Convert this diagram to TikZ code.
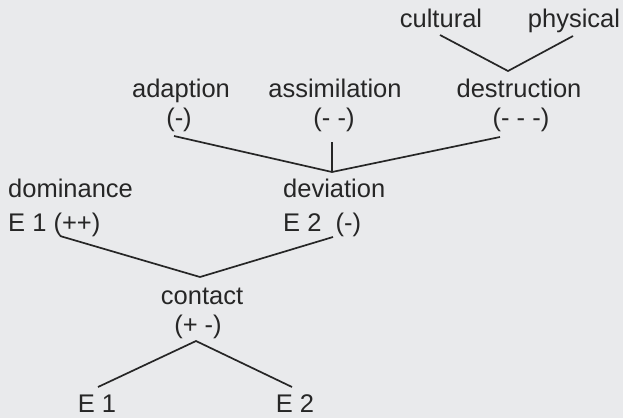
\documentclass[tikz,border=0pt]{standalone}
\usepackage{fontspec}
\setmainfont{Liberation Sans}
\definecolor{ink}{HTML}{262626}
\definecolor{paper}{HTML}{E9EAEC}
\begin{document}
\begin{tikzpicture}[x=1pt,y=-1pt,
  lbl/.style={inner sep=0pt,anchor=base,text=ink,font=\fontsize{25.5}{30}\selectfont},
  lblw/.style={lbl,anchor=base west},
  conn/.style={draw=ink,line width=1.7pt}]
\fill[paper] (0,0) rectangle (623,418);
\useasboundingbox (0,0) rectangle (623,418);
% labels
\node[lbl] (cultural) at (441,27) {cultural};
\node[lbl] (physical) at (574,27) {physical};
\node[lbl] (destruction) at (519,97) {destruction};
\node[lbl] (destsign) at (521,126) {(- - -)};
\node[lbl] (adaption) at (181,97) {adaption};
\node[lbl] (adsign) at (179,126) {(-)};
\node[lbl] (assimilation) at (335,97) {assimilation};
\node[lbl] (assign) at (334,126) {(- -)};
\node[lblw] (dominance) at (8,197) {dominance};
\node[lblw] (dom2) at (8,231) {E 1 (++)};
\node[lblw] (deviation) at (283,197) {deviation};
\node[lblw] (dev2) at (283,231) {E 2\ \ (-)};
\node[lbl] (contact) at (202,304) {contact};
\node[lbl] (consign) at (198,333) {(+ -)};
\node[lbl] (e1) at (97,412) {E 1};
\node[lbl] (e2) at (295,412) {E 2};
% connector ends
\coordinate (c1) at (440,35);
\coordinate (p1) at (573,36);
\coordinate (v1) at (508,71);
\coordinate (a1) at (174,136);
\coordinate (s1) at (332,142);
\coordinate (d1) at (500,137);
\coordinate (v2) at (332,172);
\coordinate (l1) at (60,236);
\coordinate (r1) at (333,237);
\coordinate (v3) at (200,277);
\coordinate (v4) at (196,341);
\coordinate (e1t) at (98,387);
\coordinate (e2t) at (292,387);
\draw[conn] (c1) -- (v1) -- (p1);
\draw[conn] (a1) -- (v2) -- (d1);
\draw[conn] (s1) -- (v2);
\draw[conn] (l1) -- (v3) -- (r1);
\draw[conn] (e1t) -- (v4) -- (e2t);
\end{tikzpicture}
\end{document}
